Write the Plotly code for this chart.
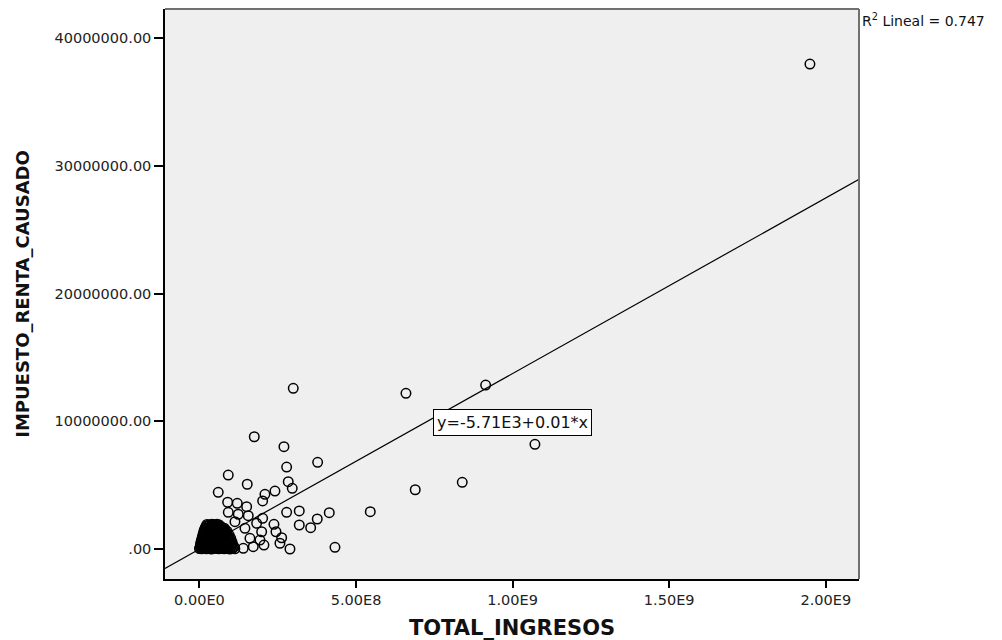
import plotly.graph_objects as go

# ---- data (values in millions) ----
outlier_x_mill = [1949.3, 299.5, 659.4, 913.8, 1071.2, 839.1, 689.0, 545.4, 432.7, 269.8,
                  377.4, 278.4, 283.5, 296.3, 241.1, 209.1, 201.8, 278.4, 318.7, 414.5,
                  376.1, 355.1, 318.7, 237.9, 244.3, 262.5, 257.0, 289.0, 206.0, 201.8,
                  198.6, 175.0, 92.0, 152.6, 60.0, 90.0, 120.7, 150.7, 92.0, 123.9,
                  155.8, 113.4, 182.6, 145.3, 161.2, 193.2, 171.8, 139.9]
outlier_y_mill = [37.98, 12.58, 12.19, 12.84, 8.20, 5.22, 4.64, 2.92, 0.13, 8.01,
                  6.79, 6.42, 5.27, 4.75, 4.54, 4.28, 3.76, 2.87, 2.98, 2.84,
                  2.35, 1.67, 1.88, 1.93, 1.35, 0.88, 0.45, 0.00, 0.31, 2.40,
                  1.35, 8.79, 5.79, 5.07, 4.44, 3.66, 3.58, 3.31, 2.87, 2.72,
                  2.61, 2.14, 2.01, 1.62, 0.84, 0.70, 0.18, 0.05]

cluster_x_mill = [0, 7, 15, 22, 30, 38, 46, 54, 62, 70, 79, 88, 97, 105, 113,
                  2, 10, 18, 26, 34, 42, 50, 58, 66, 74, 83, 92, 101, 110,
                  3, 11, 19, 27, 35, 43, 51, 60, 68, 76, 84, 92, 100, 108,
                  4, 12, 20, 28, 36, 44, 52, 60, 68, 77, 86, 95, 104,
                  5, 13, 21, 29, 37, 45, 53, 61, 69, 78, 87, 96, 104,
                  7, 15, 23, 31, 39, 47, 55, 63, 72, 81, 90, 99,
                  8, 16, 24, 32, 40, 48, 56, 65, 74, 83, 92, 100,
                  10, 18, 26, 34, 42, 50, 58, 66, 75, 84, 93,
                  11, 19, 27, 35, 43, 51, 59, 67, 76, 86, 95,
                  13, 21, 29, 37, 45, 53, 61, 70, 79, 88,
                  14, 22, 30, 38, 46, 54, 63, 72, 80, 88,
                  16, 24, 32, 40, 48, 56, 64, 72, 80,
                  18, 26, 34, 42, 50, 58, 66, 74, 80,
                  21, 29, 37, 45, 53, 61, 68,
                  24, 32, 40, 48, 56, 62]
cluster_y_mill = [0.03, 0.01, 0.05, 0.02, 0.04, 0.00, 0.06, 0.03, 0.01, 0.05, 0.02, 0.04, 0.00, 0.03, 0.02,
                  0.13, 0.15, 0.12, 0.14, 0.13, 0.16, 0.12, 0.14, 0.15, 0.13, 0.12, 0.14, 0.13, 0.15,
                  0.27, 0.25, 0.29, 0.26, 0.30, 0.27, 0.24, 0.28, 0.26, 0.29, 0.25, 0.27, 0.30, 0.26,
                  0.41, 0.43, 0.40, 0.42, 0.41, 0.44, 0.40, 0.42, 0.43, 0.41, 0.40, 0.42, 0.41,
                  0.55, 0.53, 0.57, 0.54, 0.56, 0.52, 0.58, 0.55, 0.53, 0.57, 0.54, 0.56, 0.55,
                  0.69, 0.71, 0.68, 0.70, 0.69, 0.72, 0.68, 0.70, 0.71, 0.69, 0.68, 0.70,
                  0.82, 0.80, 0.84, 0.81, 0.83, 0.79, 0.85, 0.82, 0.80, 0.84, 0.81, 0.83,
                  0.96, 0.98, 0.95, 0.97, 0.96, 0.99, 0.95, 0.97, 0.98, 0.96, 0.95,
                  1.10, 1.08, 1.12, 1.09, 1.11, 1.07, 1.13, 1.10, 1.08, 1.12, 1.09,
                  1.23, 1.25, 1.22, 1.24, 1.23, 1.26, 1.22, 1.24, 1.25, 1.23,
                  1.37, 1.35, 1.39, 1.36, 1.38, 1.34, 1.40, 1.37, 1.35, 1.39,
                  1.50, 1.52, 1.49, 1.51, 1.50, 1.53, 1.49, 1.51, 1.52,
                  1.64, 1.62, 1.66, 1.63, 1.65, 1.61, 1.67, 1.64, 1.62,
                  1.78, 1.80, 1.77, 1.79, 1.78, 1.81, 1.77,
                  1.92, 1.90, 1.94, 1.91, 1.93, 1.90]

fit_intercept = -5710.0
fit_slope = 0.01375
r2_text = "R<sup>2</sup> Lineal = 0.747"
eq_text = "y=-5.71E3+0.01*x"

x_tickvals = [0, 5e8, 1e9, 1.5e9, 2e9]
x_ticktext = ["0.00E0", "5.00E8", "1.00E9", "1.50E9", "2.00E9"]
y_tickvals = [0, 1e7, 2e7, 3e7, 4e7]
y_ticktext = [".00", "10000000.00", "20000000.00", "30000000.00", "40000000.00"]

x_range = [-1.10e8, 2.106e9]
y_range = [-2.35e6, 42.29e6]

# ---- figure ----
all_x = [v * 1e6 for v in cluster_x_mill + outlier_x_mill]
all_y = [v * 1e6 for v in cluster_y_mill + outlier_y_mill]

fig = go.Figure()
fig.add_trace(go.Scatter(
    x=[x_range[0], x_range[1]],
    y=[fit_intercept + fit_slope * x_range[0], fit_intercept + fit_slope * x_range[1]],
    mode="lines", line=dict(color="black", width=1.2), hoverinfo="skip", showlegend=False))
fig.add_trace(go.Scatter(
    x=all_x, y=all_y, mode="markers",
    marker=dict(symbol="circle-open", size=9.5, color="black", line=dict(width=1.5)),
    showlegend=False))

tick_font = dict(family="DejaVu Sans", size=14.5, color="#222")
fig.update_xaxes(range=x_range, tickvals=x_tickvals, ticktext=x_ticktext, automargin=False,
                 ticks="outside", ticklen=7, tickwidth=1.5, tickcolor="black",
                 showline=True, linecolor="black", linewidth=1.5, showgrid=False, zeroline=False,
                 tickfont=tick_font,
                 title=dict(text="<b>TOTAL_INGRESOS</b>", font=dict(family="DejaVu Sans", size=21, color="#111"), standoff=17))
fig.update_yaxes(range=y_range, tickvals=y_tickvals, ticktext=y_ticktext, automargin=False,
                 ticks="outside", ticklen=9, tickwidth=1.5, tickcolor="black",
                 showline=True, linecolor="black", linewidth=1.5, showgrid=False, zeroline=False,
                 tickfont=tick_font,
                 title=dict(text="<b>IMPUESTO_RENTA_CAUSADO</b>", font=dict(family="DejaVu Sans", size=18, color="#111"), standoff=20))

fig.add_shape(type="line", xref="paper", yref="paper", x0=0, x1=1, y0=1, y1=1,
              line=dict(color="#707070", width=2))
fig.add_shape(type="line", xref="paper", yref="paper", x0=1, x1=1, y0=0, y1=1,
              line=dict(color="#707070", width=2))

fig.add_annotation(x=1.0e9, y=9.87e6, text=eq_text, showarrow=False,
                   font=dict(family="DejaVu Sans", size=16, color="#111"),
                   bgcolor="white", bordercolor="black", borderwidth=1, borderpad=3)
fig.add_annotation(xref="paper", yref="paper", x=1.002, y=1.0, xanchor="left", yanchor="top",
                   text=r2_text, showarrow=False,
                   font=dict(family="DejaVu Sans", size=14, color="#111"))

fig.update_layout(width=1002, height=640, margin=dict(l=165, r=143, t=9, b=61),
                  plot_bgcolor="#efefef", paper_bgcolor="white")

fig.write_html("out.html")
